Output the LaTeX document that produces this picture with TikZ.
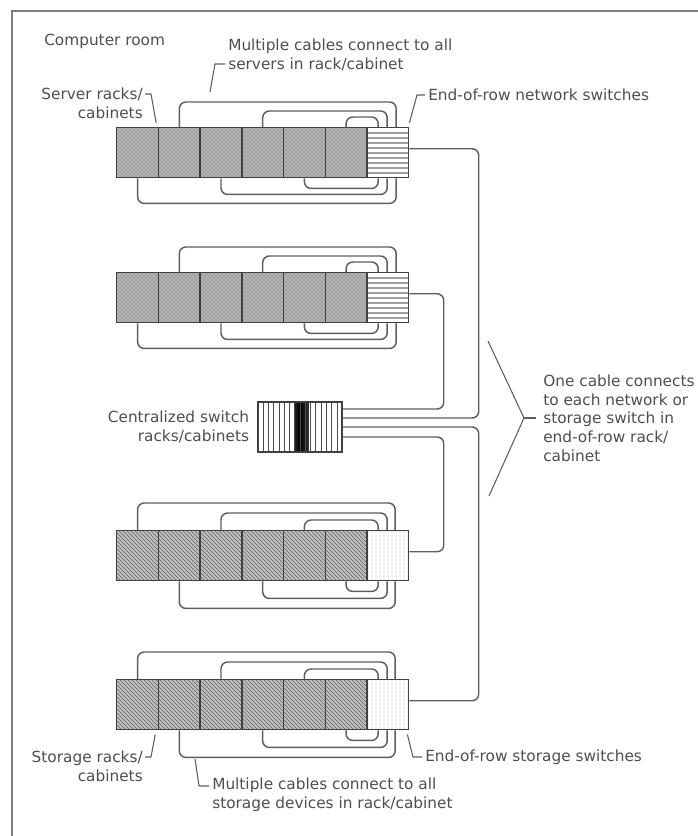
\documentclass[tikz,border=0pt]{standalone}
\usepackage{fontspec}
\setmainfont{DejaVu Sans}
\usetikzlibrary{calc,positioning,patterns}
\definecolor{inkgray}{HTML}{4E4E4E}
\definecolor{wiregray}{HTML}{5E5E5E}

\tikzset{
  cable/.style={draw=wiregray, line width=1.1pt, rounded corners=5pt},
  lead/.style={draw=wiregray, line width=0.8pt},
  lbl/.style={text=inkgray, font=\fontsize{11.5}{14}\selectfont, inner sep=0pt},
  rackcell/.style={draw=black!75, line width=1.1pt, minimum width=31.3pt, minimum height=37.5pt, inner sep=0pt, anchor=north west},
  srvcell/.style={rackcell, preaction={fill=gray!60}, pattern=crosshatch dots, pattern color=black!55},
  stocell/.style={rackcell, preaction={fill=gray!50}, pattern=north west lines, pattern color=black!60},
  netswitch/.style={rackcell, fill=white, path picture={
      \foreach \k in {1,...,9}
        \draw[gray!75, line width=1.3pt] ([yshift=-\k*3.75pt]path picture bounding box.north west) -- ([yshift=-\k*3.75pt]path picture bounding box.north east);}},
  stoswitch/.style={rackcell, preaction={fill=white}, pattern=dots, pattern color=gray!65},
  coreswitch/.style={draw=black!75, line width=1.1pt, minimum width=63pt, minimum height=37.5pt, inner sep=0pt, fill=white, path picture={
      \shade[left color=white, right color=white, middle color=black] ([xshift=28pt]path picture bounding box.south west) rectangle ([xshift=38pt]path picture bounding box.north west);
      \foreach \k in {1,...,15}
        \draw[gray!60!black, line width=0.7pt] ([xshift=\k*3.95pt]path picture bounding box.south west) -- ([xshift=\k*3.95pt]path picture bounding box.north west);}}
}

\begin{document}
\begin{tikzpicture}[x=0.75pt, y=-0.75pt]
  \useasboundingbox (0,0) rectangle (698,836);

  % 1. room frame
  \draw[wiregray!80, line width=1.3pt] (12,836) -- (12,11) -- (698,11);
  \node[lbl, anchor=west] (roomLbl) at (44,41) {Computer room};

  % 2. server rows with end-of-row network switches
  \foreach \r/\y in {srvA/127, srvB/272}{
    \foreach \i in {1,...,6}
      \node[srvcell] (\r-\i) at ({116+(\i-1)*41.7},\y) {};
    \node[netswitch] (\r-sw) at (366.2,\y) {};
    \foreach \t/\b/\h/\dx in {2/1/25/30, 4/3/16/21, 6/5/10/12}{
      \draw[cable] (\r-\t.north) -- ++(0,-\h) -| ($(\r-sw.north west)+(\dx,0)$);
      \draw[cable] ($(\r-sw.south west)+(\dx,0)$) -- ++(0,\h) -| (\r-\b.south);
    }
  }

  % 3. storage rows with end-of-row storage switches
  \foreach \r/\y in {stoA/530, stoB/679}{
    \foreach \i in {1,...,6}
      \node[stocell] (\r-\i) at ({116+(\i-1)*41.7},\y) {};
    \node[stoswitch] (\r-sw) at (366.2,\y) {};
    \foreach \t/\b/\h/\dx in {1/2/27/29, 3/4/17/21, 5/6/10/12}{
      \draw[cable] (\r-\t.north) -- ++(0,-\h) -| ($(\r-sw.north west)+(\dx,0)$);
      \draw[cable] ($(\r-sw.south west)+(\dx,0)$) -- ++(0,\h) -| (\r-\b.south);
    }
  }

  % 4. centralized switch and one cable per row
  \node[coreswitch] (cs) at (300,427) {};
  \node[lbl, align=right, left=6pt of cs] (coreLbl) {Centralized switch\\racks/cabinets};
  \coordinate (cs-1) at ($(cs.east)+(0,-18)$);
  \coordinate (cs-2) at ($(cs.east)+(0,-9)$);
  \coordinate (cs-3) at (cs.east);
  \coordinate (cs-4) at ($(cs.east)+(0,10)$);
  \draw[cable] ([yshift=3pt]srvB-sw.east) -| ($(cs-1)+(101,0)$) -- (cs-1);
  \draw[cable] ([yshift=3pt]srvA-sw.east) -| ($(cs-2)+(136,0)$) -- (cs-2);
  \draw[cable] (cs-3) -- ($(cs-3)+(136,0)$) |- ([yshift=3pt]stoB-sw.east);
  \draw[cable] (cs-4) -- ($(cs-4)+(101,0)$) |- ([yshift=3pt]stoA-sw.east);

  % 5. labels and leaders
  \node[lbl, anchor=east, align=right] (srvRackLbl) at (143,103) {Server racks/\\cabinets};
  \draw[lead] ($(srvRackLbl.east)+(2,-9)$) -- ++(6,0) -- ($(srvA-1.north east)+(-3,-4)$);
  \node[lbl, anchor=west, align=left] (srvCableLbl) at (228,55) {Multiple cables connect to all\\servers in rack/cabinet};
  \draw[lead] ($(srvCableLbl.west)+(-3,9)$) -- ++(-10,0) -- ++(-5,28);
  \node[lbl, anchor=west] (netSwLbl) at (428,95) {End-of-row network switches};
  \draw[lead] ($(netSwLbl.west)+(-3,0)$) -- ++(-8,0) -- ($(srvA-sw.north east)+(0,-4)$);

  \node[lbl, anchor=west, align=left] (noteLbl) at (543,418) {One cable connects\\to each network or\\storage switch in\\end-of-row rack/\\cabinet};
  \draw[lead] ($(noteLbl.west)+(-7,0)$) -- ++(-12,0) coordinate (braceTip);
  \draw[lead] ($(braceTip)+(-36,-77)$) -- (braceTip) -- ($(braceTip)+(-35,78)$);

  \node[lbl, anchor=east, align=right] (stoRackLbl) at (143,766) {Storage racks/\\cabinets};
  \draw[lead] ($(stoRackLbl.east)+(2,-9)$) -- ++(6,0) -- ($(stoB-1.south east)+(-4,4)$);
  \node[lbl, anchor=west] (stoSwLbl) at (425,757) {End-of-row storage switches};
  \draw[lead] ($(stoSwLbl.west)+(-3,0)$) -- ++(-9,0) -- ($(stoB-sw.south east)+(-2,4)$);
  \node[lbl, anchor=west, align=left] (stoCableLbl) at (212,795) {Multiple cables connect to all\\storage devices in rack/cabinet};
  \draw[lead] ($(stoCableLbl.west)+(-3,-9)$) -- ++(-10,0) -- ++(-4,-27);
\end{tikzpicture}
\end{document}
